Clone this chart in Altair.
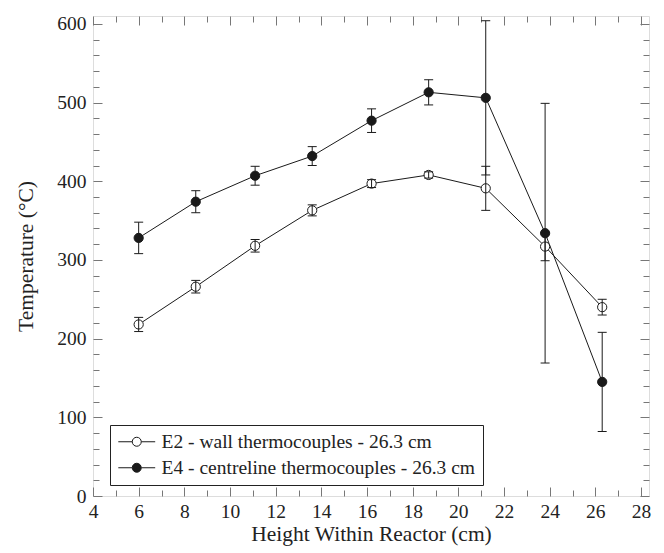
import altair as alt
import pandas as pd

# ---- data ----
heights = [6.0, 8.5, 11.1, 13.6, 16.2, 18.7, 21.2, 23.8, 26.3]
e2_temp = [218, 266, 318, 363, 397, 408, 391, 317, 240]
e2_err = [9, 8, 8, 7, 5, 4, 28, 18, 10]
e4_temp = [328, 374, 407, 432, 477, 513, 506, 334, 145]
e4_err = [20, 14, 12, 12, 15, 16, 98, 165, 63]
series_names = ["E2 - wall thermocouples - 26.3 cm",
                "E4 - centreline thermocouples - 26.3 cm"]

x_major = list(range(4, 29, 2))
x_minor = list(range(5, 28, 2))
y_major = list(range(0, 601, 100))
y_minor = [v for v in range(20, 601, 20) if v % 100]

rows = []
for name, temps, errs in [(series_names[0], e2_temp, e2_err),
                          (series_names[1], e4_temp, e4_err)]:
    for h, t, e in zip(heights, temps, errs):
        rows.append({"x": h, "y": t, "lo": t - e, "hi": t + e, "series": name})
df = pd.DataFrame(rows)
caps = pd.concat([
    df[["x", "series"]].assign(yc=df["lo"]),
    df[["x", "series"]].assign(yc=df["hi"]),
])

FONT = "'Liberation Serif', 'Times New Roman', 'DejaVu Serif', serif"
INK = "#1a1a1a"
TICK = "#777777"

xscale = alt.Scale(domain=[4, 28.35], nice=False, zero=False)
yscale = alt.Scale(domain=[0, 610], nice=False)

common = dict(domain=False, grid=False, tickColor=TICK, tickWidth=1,
              labelFont=FONT, titleFont=FONT, labelColor="#222222",
              titleColor="#222222", titleFontWeight="normal",
              labelFlush=False, labelOverlap=False)

ax_x_bottom = alt.Axis(orient="bottom", values=x_major, tickSize=9, offset=-9,
                       labelPadding=6, labelFontSize=19.5, format="d",
                       title="Height Within Reactor (cm)", titleFontSize=21.5,
                       titlePadding=3, **common)
ax_y_left = alt.Axis(orient="left", values=y_major, tickSize=9, offset=-9,
                     labelPadding=7, labelFontSize=19.5, format="d",
                     title="Temperature (°C)", titleFontSize=21.5,
                     titlePadding=19, **common)
ax_x_top = alt.Axis(orient="top", values=x_major, tickSize=9, offset=-9,
                    labels=False, title=None, **common)
ax_y_right = alt.Axis(orient="right", values=y_major, tickSize=9, offset=-9,
                      labels=False, title=None, **common)
ax_x_bottom_minor = alt.Axis(orient="bottom", values=x_minor, tickSize=6, offset=-6,
                             labels=False, title=None, **common)
ax_y_left_minor = alt.Axis(orient="left", values=y_minor, tickSize=6, offset=-6,
                           labels=False, title=None, **common)
ax_x_top_minor = alt.Axis(orient="top", values=x_minor, tickSize=6, offset=-6,
                          labels=False, title=None, **common)
ax_y_right_minor = alt.Axis(orient="right", values=y_minor, tickSize=6, offset=-6,
                            labels=False, title=None, **common)

# legend glyph: short line, marker circle, short line (circle radius = 1 unit)
legend_path = ("M-4.1,0H-1M1,0H4.1"
               "M1,0A1,1,0,1,1,-1,0A1,1,0,1,1,1,0Z")

base = alt.Chart(df)

lines = base.mark_line(color=INK, strokeWidth=1).encode(
    x=alt.X("x:Q", scale=xscale, axis=ax_x_bottom),
    y=alt.Y("y:Q", scale=yscale, axis=ax_y_left),
    detail="series:N",
)

points = base.mark_point(filled=True, size=85, stroke=INK, strokeWidth=1,
                         opacity=1).encode(
    x=alt.X("x:Q", scale=xscale, axis=ax_x_top),
    y=alt.Y("y:Q", scale=yscale, axis=ax_y_right),
    fill=alt.Fill("series:N",
                  scale=alt.Scale(domain=series_names, range=["white", INK]),
                  legend=alt.Legend(title=None, orient="none", legendX=17,
                                    legendY=409, symbolType=legend_path,
                                    symbolSize=81, symbolOffset=10,
                                    symbolStrokeColor=INK,
                                    symbolStrokeWidth=1, labelFont=FONT,
                                    labelFontSize=19.5, labelColor="#222222",
                                    labelOffset=15, padding=7, rowPadding=5,
                                    fillColor="white", strokeColor="#222222",
                                    labelLimit=600)),
)

rules = base.mark_rule(color=INK, strokeWidth=1).encode(
    x=alt.X("x:Q", scale=xscale, axis=ax_x_bottom_minor),
    y=alt.Y("lo:Q", scale=yscale, axis=ax_y_left_minor),
    y2="hi:Q",
)

cap_marks = alt.Chart(caps).mark_tick(orient="horizontal", size=9, thickness=1,
                                      color=INK, opacity=1).encode(
    x=alt.X("x:Q", scale=xscale, axis=ax_x_top_minor),
    y=alt.Y("yc:Q", scale=yscale, axis=ax_y_right_minor),
)

chart = alt.layer(lines, points, rules, cap_marks).resolve_axis(
    x="independent", y="independent"
).properties(
    width=556, height=480,
    autosize=alt.AutoSizeParams(type="none"),
    padding={"left": 85, "top": 8, "right": 7, "bottom": 54},
).configure_view(stroke="#222222", strokeWidth=1).configure(background="white")

chart.save("out.html", embed_options={"renderer": "svg", "actions": False})
